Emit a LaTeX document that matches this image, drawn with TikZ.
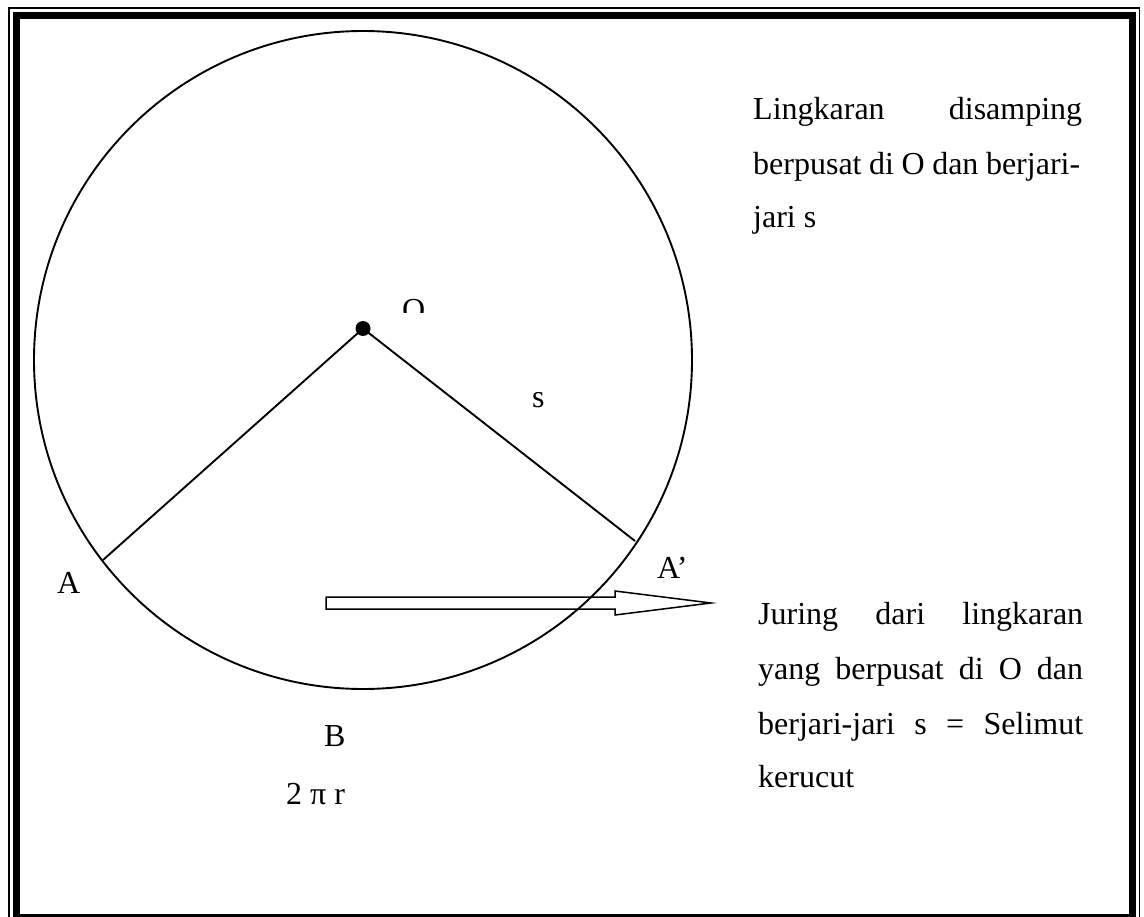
\documentclass[tikz,border=0pt]{standalone}
\usepackage{fontspec}
\setmainfont{Liberation Serif}
\begin{document}
\begin{tikzpicture}[x=1pt,y=-1pt,
  lbl/.style={anchor=base west,inner sep=0pt,font=\fontsize{32}{38}\selectfont},
  thinln/.style={line width=1.9pt,black},
  ]
\useasboundingbox (0,0) rectangle (1144,917);
% frame
\begin{scope}
\clip (0,0) rectangle (1144,917);
\draw[line width=1.4pt] (9,8) rectangle (1139.5,926);
\draw[line width=7.8pt] (16.5,15.5) rectangle (1132.5,917.5);
\end{scope}
% circle
\node[circle,draw,line width=1.9pt,minimum size=658pt,inner sep=0pt] (circ) at (363,360) {};
\coordinate (O) at (363,328.5);
\coordinate (Apt) at (103,560);
\coordinate (Appt) at (635,541);
\draw[thinln] (O) -- (Apt);
\draw[thinln] (O) -- (Appt);
\fill (O) circle (7.5pt);
% labels
\begin{scope}
\clip (380,280) rectangle (450,313);
\node[lbl] (lO) at (402,321) {O};
\end{scope}
\node[lbl] (ls) at (532,408) {s};
\node[lbl] (lA) at (57,593) {A};
\node[lbl] (lAp) at (657,578) {A’};
\node[lbl] (lB) at (324,746) {B};
\node[lbl] (l2pr) at (286,804) {2 π r};
% hollow arrow
\draw[line width=1.5pt,line join=miter] (326,597) -- (615,597) -- (615,591) -- (711,603) -- (615,615) -- (615,609) -- (326,609) -- cycle;
% text block 1
\node[lbl] (t1a) at (753,120) {\makebox[329pt][s]{Lingkaran disamping}};
\node[lbl] (t1b) at (753,175) {\makebox[327pt][s]{berpusat di O dan berjari-}};
\node[lbl] (t1c) at (753,228) {jari s};
% text block 2
\node[lbl] (t2a) at (758,624) {\makebox[325pt][s]{Juring dari lingkaran}};
\node[lbl] (t2b) at (758,679) {\makebox[325pt][s]{yang berpusat di O dan}};
\node[lbl] (t2c) at (758,734) {\makebox[325pt][s]{berjari-jari s = Selimut}};
\node[lbl] (t2d) at (758,787) {kerucut};
\end{tikzpicture}
\end{document}
